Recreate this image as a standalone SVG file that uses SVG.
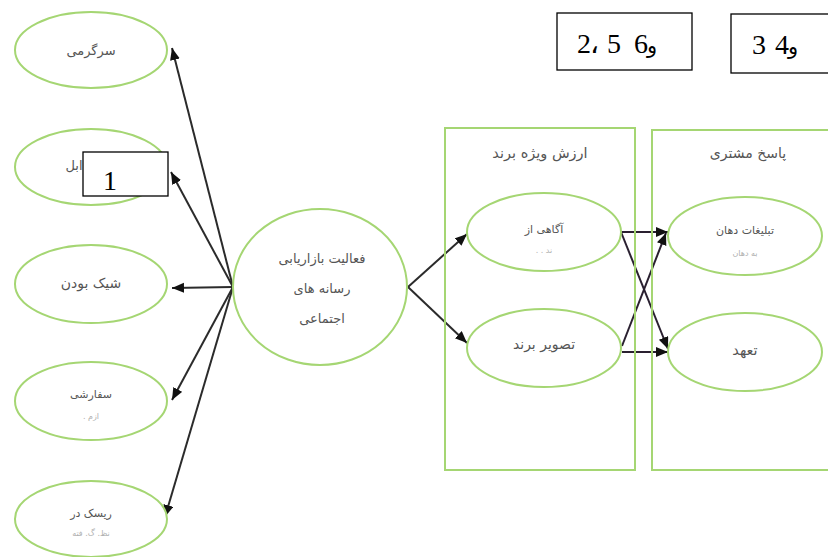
<svg xmlns="http://www.w3.org/2000/svg" width="828" height="557" viewBox="0 0 828 557">
  <style>
    .oval { fill: #ffffff; stroke: #a5d673; stroke-width: 2; }
    .panel { fill: none; stroke: #a5d673; stroke-width: 2; }
    .label { font-family: "DejaVu Sans", "Noto Sans", sans-serif; fill: #555555; text-anchor: middle; }
    .faint { font-family: "DejaVu Sans", "Noto Sans", sans-serif; fill: #b0b0b0; text-anchor: middle; font-size: 8px; }
    .tag { fill: #ffffff; stroke: #000000; stroke-width: 1.3; }
    .num { font-family: "Liberation Serif", "Times New Roman", serif; font-size: 28px; fill: #000000; }
    .waw { font-family: "DejaVu Sans", sans-serif; font-size: 21px; }
    .link { fill: none; stroke: #2b2b2b; stroke-width: 2; marker-end: url(#head); }
    .cross { fill: none; stroke: #2a2030; stroke-width: 2; marker-end: url(#head); }
  </style>
  <defs>
    <marker id="head" markerUnits="userSpaceOnUse" markerWidth="14" markerHeight="12" refX="12" refY="5" orient="auto">
      <path d="M0,0 L12,5 L0,10 Z" fill="#111111"/>
    </marker>
  </defs>

  <!-- connectors -->
  <g id="connectors">
    <line class="link" x1="233" y1="287" x2="172" y2="48"/>
    <line class="link" x1="233" y1="287" x2="171" y2="172"/>
    <line class="link" x1="233" y1="287" x2="172" y2="288"/>
    <line class="link" x1="233" y1="287" x2="172" y2="400"/>
    <line class="link" x1="233" y1="287" x2="165" y2="517"/>
    <line class="link" x1="408" y1="287" x2="467" y2="234"/>
    <line class="link" x1="408" y1="287" x2="467" y2="343"/>
    <line class="cross" x1="621" y1="232" x2="668" y2="232"/>
    <line class="cross" x1="621" y1="232" x2="668" y2="349"/>
    <line class="cross" x1="622" y1="346" x2="666" y2="233"/>
    <line class="cross" x1="622" y1="352" x2="668" y2="352"/>
  </g>

  <!-- left column -->
  <g id="entertainment">
    <ellipse class="oval" cx="91" cy="50" rx="76" ry="38"/>
    <text class="label" x="91" y="55" font-size="13">سرگرمی</text>
  </g>
  <g id="interaction">
    <ellipse class="oval" cx="91" cy="167" rx="76" ry="38"/>
    <text class="label" x="74" y="170" font-size="13">ابل</text>
  </g>
  <g id="trendiness">
    <ellipse class="oval" cx="91" cy="284" rx="76" ry="39"/>
    <text class="label" x="91" y="288" font-size="14">شیک بودن</text>
  </g>
  <g id="customization">
    <ellipse class="oval" cx="91" cy="401" rx="76" ry="39"/>
    <text class="label" x="91" y="398" font-size="11">سفارشی</text>
    <text class="faint" x="91" y="419">. ازم</text>
  </g>
  <g id="risk">
    <ellipse class="oval" cx="91" cy="519" rx="76" ry="38"/>
    <text class="label" x="91" y="517" font-size="11">ریسک در</text>
    <text class="faint" x="91" y="536" font-size="9">نظ. گ. فته</text>
  </g>

  <!-- centre -->
  <g id="smm-activities">
    <ellipse class="oval" cx="320" cy="287" rx="87" ry="78"/>
    <text class="label" x="322" y="263" font-size="13">فعالیت بازاریابی</text>
    <text class="label" x="322" y="293" font-size="13">رسانه های</text>
    <text class="label" x="322" y="323" font-size="13">اجتماعی</text>
  </g>

  <!-- brand equity panel -->
  <g id="brand-equity">
    <rect class="panel" x="445" y="128" width="190" height="342"/>
    <text class="label" x="540" y="158" font-size="14.5">ارزش ویژه برند</text>
  </g>
  <g id="brand-awareness">
    <ellipse class="oval" cx="544" cy="232" rx="77" ry="39"/>
    <text class="label" x="544" y="233" font-size="11" fill="#777777">آگاهی از</text>
    <text class="faint" x="544" y="253">. . ند</text>
  </g>
  <g id="brand-image">
    <ellipse class="oval" cx="544" cy="348" rx="77" ry="39"/>
    <text class="label" x="544" y="349" font-size="14">تصویر برند</text>
  </g>

  <!-- customer response panel -->
  <g id="customer-response">
    <rect class="panel" x="652" y="130" width="190" height="340"/>
    <text class="label" x="748" y="158" font-size="14">پاسخ مشتری</text>
  </g>
  <g id="word-of-mouth">
    <ellipse class="oval" cx="745" cy="236" rx="77" ry="39"/>
    <text class="label" x="745" y="234" font-size="11">تبلیغات دهان</text>
    <text class="faint" x="745" y="256" font-size="9">به دهان</text>
  </g>
  <g id="commitment">
    <ellipse class="oval" cx="745" cy="352" rx="77" ry="39"/>
    <text class="label" x="745" y="355" font-size="14.5">تعهد</text>
  </g>

  <!-- numbered tags -->
  <g id="tag-1">
    <rect class="tag" x="83" y="152" width="85" height="44"/>
    <text class="num" x="110" y="190" text-anchor="middle">1</text>
  </g>
  <g id="tag-256">
    <rect class="tag" x="557" y="13" width="135" height="57"/>
    <text class="num" y="53"><tspan x="577">2</tspan><tspan x="590">،</tspan><tspan x="607">5</tspan><tspan x="634">6</tspan><tspan x="647" class="waw">و</tspan></text>
  </g>
  <g id="tag-34">
    <rect class="tag" x="731" y="14" width="100" height="59"/>
    <text class="num" y="54"><tspan x="752">3</tspan><tspan x="775">4</tspan><tspan x="788" class="waw">و</tspan></text>
  </g>
</svg>
